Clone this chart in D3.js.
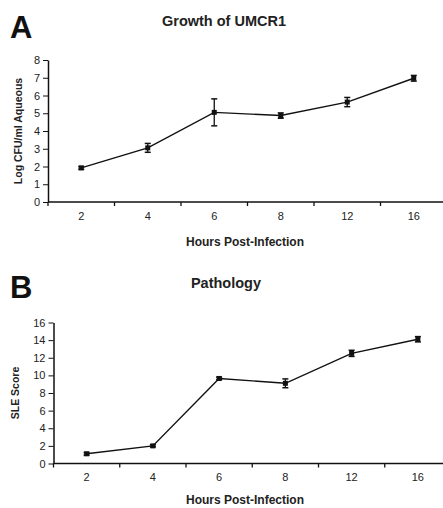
<!DOCTYPE html>
<html>
<head>
<meta charset="utf-8">
<script src="https://cdn.jsdelivr.net/npm/d3@7"></script>
<style>
  body { margin: 0; background: #fff; }
  svg text { font-family: "Liberation Sans", Arial, sans-serif; fill: #222; }
  .axis path, .axis line { stroke: #111; }
</style>
</head>
<body>
<div id="chart"></div>
<script>
// data
var hours = ["2", "4", "6", "8", "12", "16"];
var growthMean = [1.92, 3.05, 5.05, 4.87, 5.63, 6.97];
var growthErr = [0.08, 0.25, 0.76, 0.15, 0.26, 0.16];
var growthTicks = [0, 1, 2, 3, 4, 5, 6, 7, 8];
var pathMean = [1.1, 2.0, 9.65, 9.1, 12.5, 14.1];
var pathErr = [0.15, 0.12, 0.15, 0.5, 0.35, 0.3];
var pathTicks = [0, 2, 4, 6, 8, 10, 12, 14, 16];

var W = 443, H = 508;
var svg = d3.select("#chart").append("svg")
    .attr("width", W).attr("height", H);

var drawPanel = (opt) => {
    var x = d3.scaleBand().domain(hours).range([opt.x0, opt.x1]);
    var y = d3.scaleLinear().domain([0, opt.ymax]).range([opt.y0, opt.y1]);
    var g = svg.append("g");

    // panel letter + title
    g.append("text").attr("x", 10).attr("y", opt.letterY)
        .text(opt.letter)
        .style("font-size", "31px").style("font-weight", "bold").style("fill", "#111");
    g.append("text").attr("x", opt.titleX).attr("y", opt.titleY)
        .attr("text-anchor", "middle")
        .text(opt.title)
        .style("font-size", "14.5px").style("font-weight", "bold");

    // axes
    var xAxis = d3.axisBottom(x).tickSize(0).tickPadding(10);
    var xg = g.append("g").attr("class", "axis")
        .attr("transform", `translate(0,${opt.y0})`)
        .call(xAxis);
    xg.select(".domain").attr("d", `M${opt.x0},0H${W}`).style("stroke-width", 1.5);
    xg.selectAll("text").style("font-size", "11px");
    // boundary ticks between categories
    xg.selectAll(".sep").data(hours).enter().append("line")
        .attr("class", "sep")
        .attr("x1", d => x(d)).attr("x2", d => x(d))
        .attr("y1", 0).attr("y2", 4)
        .style("stroke", "#111").style("stroke-width", 1.3);

    var yAxis = d3.axisLeft(y).tickValues(opt.ticks).tickSize(5).tickPadding(3).tickSizeOuter(0);
    var yg = g.append("g").attr("class", "axis")
        .attr("transform", `translate(${opt.x0},0)`)
        .call(yAxis);
    yg.select(".domain").style("stroke-width", 1.5);
    yg.selectAll("text").style("font-size", "11px");

    // axis titles
    g.append("text")
        .attr("transform", `translate(${opt.ylabX},${(opt.y0 + opt.y1) / 2}) rotate(-90)`)
        .attr("text-anchor", "middle")
        .text(opt.ylab)
        .style("font-size", "10.5px").style("font-weight", "bold");
    g.append("text").attr("x", 245).attr("y", opt.xlabY)
        .attr("text-anchor", "middle")
        .text("Hours Post-Infection")
        .style("font-size", "12px").style("font-weight", "bold");

    var pts = hours.map((h, i) => ({h: h, m: opt.mean[i], e: opt.err[i]}));
    var cx = d => x(d.h) + x.bandwidth() / 2;

    // line
    var line = d3.line().x(cx).y(d => y(d.m));
    g.append("path").datum(pts)
        .attr("d", line)
        .style("fill", "none").style("stroke", "#111").style("stroke-width", 1.4);

    // error bars
    var eb = g.selectAll(".eb").data(pts).enter().append("g");
    eb.append("line")
        .attr("x1", cx).attr("x2", cx)
        .attr("y1", d => y(d.m - d.e)).attr("y2", d => y(d.m + d.e))
        .style("stroke", "#111").style("stroke-width", 1.3);
    [1, -1].forEach(s => {
        eb.append("line")
            .attr("x1", d => cx(d) - 3).attr("x2", d => cx(d) + 3)
            .attr("y1", d => y(d.m + s * d.e)).attr("y2", d => y(d.m + s * d.e))
            .style("stroke", "#111").style("stroke-width", 1.5);
    });

    // markers
    g.selectAll(".mk").data(pts).enter().append("rect")
        .attr("x", d => cx(d) - 2.5).attr("y", d => y(d.m) - 2.5)
        .attr("width", 5).attr("height", 5)
        .style("fill", "#111");
};

drawPanel({
    letter: "A", letterY: 38, title: "Growth of UMCR1", titleX: 224, titleY: 26,
    x0: 48, x1: 447, y0: 202, y1: 60, ymax: 8, ticks: growthTicks,
    ylab: "Log CFU/ml Aqueous", ylabX: 22, xlabY: 246,
    mean: growthMean, err: growthErr
});

drawPanel({
    letter: "B", letterY: 298, title: "Pathology", titleX: 226, titleY: 288,
    x0: 53.5, x1: 451, y0: 463.5, y1: 322.5, ymax: 16, ticks: pathTicks,
    ylab: "SLE Score", ylabX: 19, xlabY: 504,
    mean: pathMean, err: pathErr
});
</script>
</body>
</html>
